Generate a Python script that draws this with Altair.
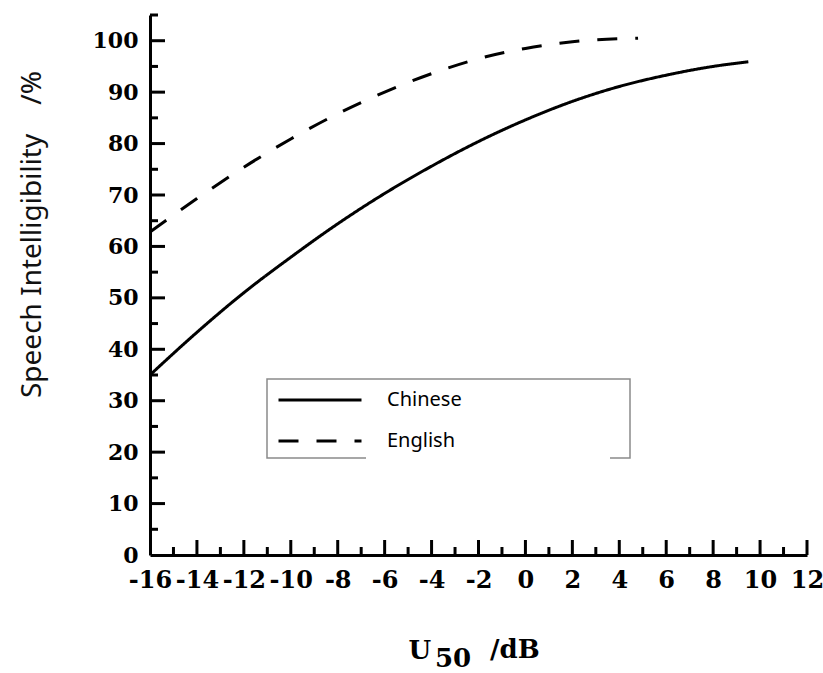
import altair as alt
import pandas as pd

# ---- data ----
chinese_x = [-16, -14, -12, -10, -8, -6, -4, -2, 0, 2, 4, 6, 8, 9.5]
chinese_y = [35, 43.3, 51, 57.9, 64.4, 70.3, 75.6, 80.4, 84.6, 88.2, 91.1, 93.3, 95, 95.9]
english_x = [-16, -14, -12, -10, -8, -6, -4, -2, 0, 2, 4, 4.8]
english_y = [62.8, 69.3, 75.4, 80.9, 85.8, 90.0, 93.6, 96.5, 98.5, 99.8, 100.4, 100.5]
series = ["Chinese", "English"]

x_major = list(range(-14, 13, 2))
x_minor = list(range(-15, 12, 2))
y_major = list(range(10, 101, 10))
y_minor = list(range(5, 106, 10))
x_labels = list(range(-16, 13, 2))
y_labels = list(range(0, 101, 10))

rows = [{"x": a, "y": b, "lang": series[0]} for a, b in zip(chinese_x, chinese_y)]
rows += [{"x": a, "y": b, "lang": series[1]} for a, b in zip(english_x, english_y)]
df = pd.DataFrame(rows)

SERIF = "DejaVu Serif"
SANS = "Noto Sans"

xscale = alt.Scale(domain=[-16, 12], nice=False, zero=False)
yscale = alt.Scale(domain=[0, 105], nice=False, zero=False)

x_axis = alt.Axis(values=x_labels, ticks=False, grid=False, domainWidth=3, domainColor="black",
                  labelExpr="'' + datum.value",
                  labelFont=SERIF, labelFontWeight="bold", labelFontSize=24, labelColor="black",
                  labelPadding=13, labelFlush=False, labelOverlap=False,
                  title="U", titleFont=SERIF, titleFontWeight="bold", titleFontSize=26,
                  titleColor="black", titleAlign="left", titleBaseline="alphabetic",
                  titleX=258, titleY=103)
y_axis = alt.Axis(values=y_labels, ticks=False, grid=False, domainWidth=3, domainColor="black",
                  labelFont=SERIF, labelFontWeight="bold", labelFontSize=22, labelColor="black",
                  labelPadding=12, labelOverlap=False, labelFlush=False,
                  title="Speech Intelligibility\u00a0\u00a0\u00a0\u00a0/%", titleFont=SANS,
                  titleFontWeight="normal", titleFontSize=28, titleColor="#111111",
                  titleAngle=270, titleAlign="center", titleBaseline="middle",
                  titleX=-118, titleY=219)

lines = alt.Chart(df).mark_line(color="black", strokeWidth=3, interpolate="monotone").encode(
    x=alt.X("x:Q", scale=xscale, axis=x_axis),
    y=alt.Y("y:Q", scale=yscale, axis=y_axis),
    strokeDash=alt.StrokeDash("lang:N",
        scale=alt.Scale(domain=series, range=[[1, 0], [20, 18]]),
        legend=alt.Legend(title=None, orient="none", legendX=116, legendY=364,
                          symbolType="stroke", symbolSize=6889, symbolStrokeWidth=3,
                          symbolStrokeColor="black", clipHeight=20, rowPadding=21,
                          labelOffset=24, padding=11, labelFont=SANS, labelFontSize=20,
                          labelColor="black")),
)

def xticks(vals, size):
    return alt.Chart(pd.DataFrame({"x": vals})).mark_tick(
        orient="vertical", size=size, thickness=3, color="black", opacity=1, yOffset=-size / 2
    ).encode(x=alt.X("x:Q", scale=xscale, axis=x_axis),
             y=alt.YDatum(0, scale=yscale, axis=y_axis))

def yticks(vals, size):
    return alt.Chart(pd.DataFrame({"y": vals})).mark_tick(
        orient="horizontal", size=size, thickness=3, color="black", opacity=1, xOffset=size / 2
    ).encode(y=alt.Y("y:Q", scale=yscale, axis=y_axis),
             x=alt.XDatum(-16, scale=xscale, axis=x_axis))

one = alt.Data(values=[{}])
frame = alt.Chart(one).mark_rect(filled=False, stroke="#8a8a8a", strokeWidth=1.5).encode(
    x=alt.value(117), x2=alt.value(480), y=alt.value(364), y2=alt.value(443))
gap = alt.Chart(one).mark_rule(color="white", strokeWidth=4).encode(
    x=alt.value(216), x2=alt.value(460), y=alt.value(443))

sub50 = alt.Chart(one).mark_text(font=SERIF, fontWeight="bold", fontSize=26, align="left",
                                 baseline="alphabetic", color="black").encode(
    x=alt.value(285), y=alt.value(652), text=alt.value("50"))
unit = alt.Chart(one).mark_text(font=SERIF, fontWeight="bold", fontSize=26, align="left",
                                baseline="alphabetic", color="black").encode(
    x=alt.value(340), y=alt.value(643), text=alt.value("/dB"))

chart = alt.layer(
    lines,
    xticks(x_major, 15), xticks(x_minor, 8),
    yticks(y_major, 15), yticks(y_minor, 8),
    frame, gap, sub50, unit,
).properties(
    width=657, height=540,
    autosize=alt.AutoSizeParams(type="none"),
    padding={"left": 150, "top": 15, "right": 16, "bottom": 118},
    background="white",
).configure_view(stroke=None)

chart.save("out.html", embed_options={"renderer": "svg", "actions": False})
